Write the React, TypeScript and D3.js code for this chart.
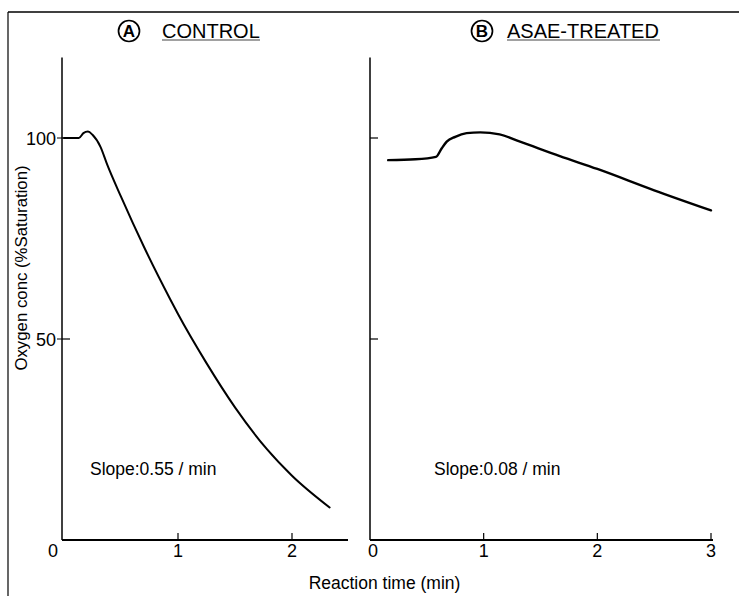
import React from "react";
import * as d3 from "d3";

const controlTime = [0, 0.13, 0.17, 0.21, 0.25, 0.32, 0.38, 0.5, 0.7, 0.935, 1.0, 1.25, 1.5, 1.78, 2.0, 2.33];
const controlO2 = [100, 100, 101.2, 101.6, 100.8, 97.8, 93.3, 85.4, 73, 59.7, 56.2, 44.0, 33, 22.6, 16.0, 8.1];

const treatedTime = [0.16, 0.4, 0.58, 0.63, 0.675, 0.75, 0.85, 0.97, 1.14, 1.32, 1.67, 2.0, 2.5, 3.0];
const treatedO2 = [94.5, 94.7, 95.3, 97.4, 99.1, 100.3, 101.2, 101.4, 100.9, 99.1, 95.5, 92.3, 87, 82];

const xTicksA = [0, 1, 2];
const xTicksB = [0, 1, 2, 3];
const yTicks = [0, 50, 100];

const titleA = "CONTROL";
const titleB = "ASAE-TREATED";
const slopeA = "Slope:0.55 / min";
const slopeB = "Slope:0.08 / min";
const yTitle = "Oxygen conc (%Saturation)";
const xTitle = "Reaction time (min)";

const FONT = "'Liberation Sans', Arial, Helvetica, sans-serif";

export default function App() {
  const W = 739, H = 596;
  const y = d3.scaleLinear().domain([0, 120]).range([540, 57.6]);
  const xA = d3.scaleLinear().domain([0, 2.5]).range([64, 349]);
  const xB = d3.scaleLinear().domain([0, 3]).range([370, 711]);

  const lineA = d3.line<number>()
    .x((_, i) => xA(controlTime[i]))
    .y((d) => y(d))
    .curve(d3.curveMonotoneX);
  const lineB = d3.line<number>()
    .x((_, i) => xB(treatedTime[i]))
    .y((d) => y(d))
    .curve(d3.curveMonotoneX);

  const axisY0 = y(0);
  const axisTop = y(120);
  const tickLen = 8;

  return (
    <svg width={W} height={H} style={{ position: "absolute", left: 0, top: 0, background: "#fff" }} fontFamily={FONT}>
      <rect x={0} y={0} width={W} height={H} fill="#fff" />
      {/* outer frame */}
      <line x1={8} y1={12} x2={W} y2={12} stroke="#000" strokeWidth={1.5} />
      <line x1={8} y1={12} x2={8} y2={H} stroke="#000" strokeWidth={1.2} />

      {/* Titles */}
      <circle cx={129} cy={31} r={10.5} fill="none" stroke="#000" strokeWidth={1.7} />
      <text x={129} y={37} fontSize={17} fontWeight="bold" textAnchor="middle">A</text>
      <text x={162} y={37.5} fontSize={20}>{titleA}</text>
      <line x1={162} x2={260} y1={40} y2={40} stroke="#444" strokeWidth={1.2} />

      <circle cx={482} cy={31} r={10.5} fill="none" stroke="#000" strokeWidth={1.7} />
      <text x={482} y={37} fontSize={17} fontWeight="bold" textAnchor="middle">B</text>
      <text x={507} y={37.5} fontSize={20}>{titleB}</text>
      <line x1={507} x2={660} y1={40} y2={40} stroke="#444" strokeWidth={1.2} />

      {/* Panel A axes */}
      <line x1={62} y1={axisTop} x2={62} y2={axisY0} stroke="#000" strokeWidth={1.5} />
      <line x1={62} y1={axisY0} x2={348} y2={axisY0} stroke="#000" strokeWidth={1.8} />
      {yTicks.filter((t) => t > 0).map((t) => (
        <g key={"ya" + t}>
          <line x1={62} x2={62 + tickLen} y1={y(t)} y2={y(t)} stroke="#000" strokeWidth={1.2} />
          <line x1={57} x2={62} y1={y(t)} y2={y(t)} stroke="#000" strokeWidth={1} />
          <text x={56} y={y(t) + 6.5} fontSize={18} textAnchor="end">{t}</text>
        </g>
      ))}
      {xTicksA.map((t) => (
        <g key={"xa" + t}>
          {t > 0 && <line x1={xA(t)} x2={xA(t)} y1={axisY0} y2={axisY0 - 7} stroke="#000" strokeWidth={1.2} />}
          <text x={t === 0 ? 53 : xA(t)} y={557} fontSize={18} textAnchor="middle">{t}</text>
        </g>
      ))}
      <path d={lineA(controlO2) || ""} fill="none" stroke="#000" strokeWidth={2} strokeLinejoin="round" strokeLinecap="round" />
      <text x={90} y={475} fontSize={17.5}>{slopeA}</text>

      {/* Panel B axes */}
      <line x1={370} y1={axisTop} x2={370} y2={axisY0} stroke="#000" strokeWidth={1.5} />
      <line x1={370} y1={axisY0} x2={713} y2={axisY0} stroke="#000" strokeWidth={1.8} />
      {yTicks.filter((t) => t > 0).map((t) => (
        <line key={"yb" + t} x1={370} x2={370 + tickLen} y1={y(t)} y2={y(t)} stroke="#000" strokeWidth={1.2} />
      ))}
      {xTicksB.map((t) => (
        <g key={"xb" + t}>
          {t > 0 && <line x1={xB(t)} x2={xB(t)} y1={axisY0} y2={axisY0 - 7} stroke="#000" strokeWidth={1.2} />}
          <text x={t === 0 ? 373 : xB(t)} y={557} fontSize={18} textAnchor="middle">{t}</text>
        </g>
      ))}
      <path d={lineB(treatedO2) || ""} fill="none" stroke="#000" strokeWidth={2.4} strokeLinejoin="round" strokeLinecap="round" />
      <text x={434} y={475} fontSize={17.5}>{slopeB}</text>

      {/* axis titles */}
      <text transform="translate(27,268) rotate(-90)" fontSize={16.8} textAnchor="middle">{yTitle}</text>
      <text x={384.5} y={589} fontSize={17.5} textAnchor="middle">{xTitle}</text>
    </svg>
  );
}
